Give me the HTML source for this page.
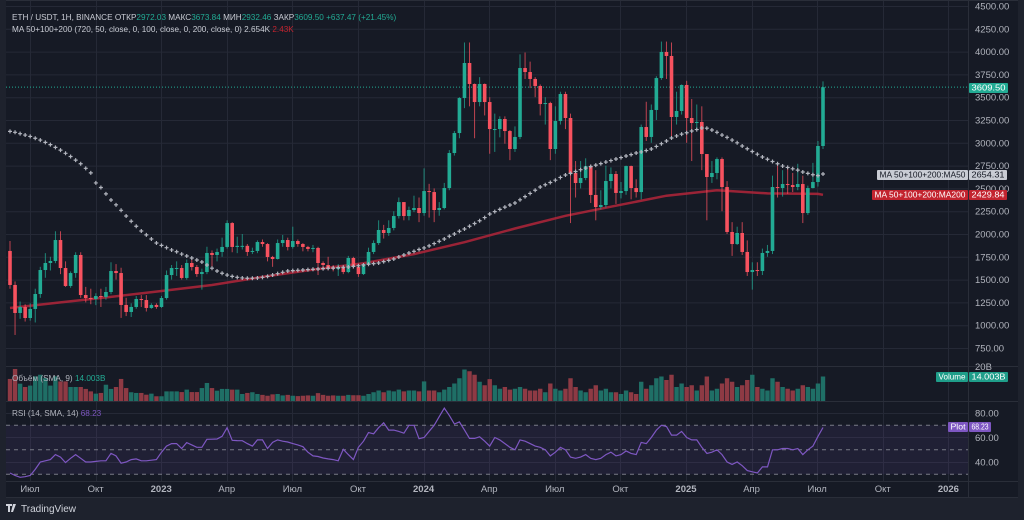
<!DOCTYPE html>
<html><head><meta charset="utf-8"><style>
html,body{margin:0;padding:0;background:#1e222d;width:1024px;height:520px;overflow:hidden;font-family:"Liberation Sans",sans-serif}
svg{display:block}
text{font-family:"Liberation Sans",sans-serif}
</style></head><body>
<svg id="c" width="1024" height="520"></svg>
<script>
const closes=[1441,1134,1200,1079,1178,1342,1605,1682,1704,1934,1627,1430,1572,1770,1331,1298,1287,1320,1310,1364,1594,1572,1222,1145,1200,1287,1276,1189,1222,1200,1298,1550,1627,1627,1518,1682,1638,1561,1583,1792,1770,1803,1858,2120,1858,1870,1870,1803,1814,1912,1890,1748,1726,1901,1934,1858,1923,1890,1858,1836,1847,1682,1660,1627,1616,1638,1583,1737,1638,1561,1671,1803,1901,2044,2011,2066,2197,2350,2197,2263,2285,2230,2471,2460,2263,2285,2504,2888,3107,3491,3875,3645,3447,3645,3447,3151,3151,3261,3129,2932,3064,3820,3776,3700,3623,3425,3436,2932,3239,3535,3272,2669,2559,2614,2745,2428,2296,2318,2581,2658,2450,2471,2745,2504,2460,3173,3064,3360,3710,3996,3952,3283,3349,3634,3272,3217,3228,2877,2625,2669,2822,2515,2022,1890,2011,1803,1583,1605,1594,1792,1814,2515,2504,2548,2537,2515,2548,2230,2504,2570,2965,3610];
const firstOpen=1814;
const highs=[1923,1480,1260,1230,1240,1400,1640,1790,1750,2030,2030,1700,1590,1800,1800,1420,1400,1350,1400,1420,1690,1670,1630,1300,1240,1320,1330,1330,1240,1240,1320,1600,1660,1700,1660,1720,1720,1660,1620,1860,1820,1840,1960,2150,2130,1970,2000,1890,1850,1930,1940,1900,1760,1940,1990,1960,2080,1940,1900,1870,1880,1860,1700,1750,1660,1670,1650,1760,1750,1660,1680,1850,1930,2150,2100,2150,2250,2400,2350,2300,2420,2400,2720,2550,2500,2350,2560,2920,3130,3500,4100,4100,3650,3720,3650,3500,3320,3290,3290,3140,3180,3970,3990,3890,3720,3640,3500,3450,3400,3560,3560,3320,2800,2800,2830,2760,2700,2480,2750,2730,2690,2570,2750,2750,2600,3200,3450,3420,3730,4110,4110,4100,3560,3640,3680,3480,3420,3400,2860,2800,2840,2840,2580,2130,2080,2130,1930,1690,1690,1840,1880,2640,2760,2700,2730,2670,2770,2640,2530,2780,3020,3674];
const lows=[1400,893,1070,1040,1050,1030,1300,1520,1600,1680,1560,1420,1410,1520,1300,1250,1230,1220,1200,1280,1340,1500,1080,1100,1090,1180,1200,1150,1180,1180,1190,1280,1500,1540,1500,1500,1600,1530,1390,1560,1640,1700,1750,1840,1800,1790,1830,1760,1780,1790,1860,1700,1640,1720,1860,1820,1840,1860,1810,1810,1800,1550,1600,1600,1590,1540,1560,1570,1620,1530,1550,1650,1780,1880,1950,1980,2040,2170,2150,2150,2240,2130,2200,2180,2130,2200,2270,2480,2860,3050,3380,3400,3050,3400,3300,2880,2900,3060,2990,2810,2900,3040,3700,3600,3500,3300,3200,2810,2880,3200,3150,2120,2400,2500,2590,2340,2150,2270,2290,2500,2330,2390,2430,2380,2400,2380,3020,3000,3250,3690,3700,3060,3200,3310,3000,2800,3150,2700,2150,2560,2600,2250,2000,1760,1880,1770,1540,1390,1540,1550,1750,1780,2400,2410,2440,2460,2480,2120,2210,2500,2520,2932];
const volumes=[12.6,18.3,9.9,8.0,8.8,14.1,15.0,13.1,8.8,14.1,11.2,11.2,8.0,8.0,8.0,6.9,5.5,4.2,4.6,9.3,6.9,8.0,12.6,7.4,5.0,4.6,4.6,3.6,4.2,2.7,2.7,5.5,5.5,5.5,5.1,6.5,5.1,5.1,7.4,10.3,7.4,5.9,6.9,6.9,6.5,6.5,4.0,4.6,5.0,4.0,3.5,3.0,3.8,4.0,3.2,3.5,3.0,2.8,3.0,3.2,3.0,4.5,3.5,3.0,3.2,3.0,3.0,3.5,3.3,3.3,3.0,4.0,5.0,6.0,5.0,6.0,5.5,6.5,5.5,6.0,6.0,5.5,11.2,6.0,6.0,5.0,6.5,8.0,10.0,13.0,18.0,17.0,15.0,11.0,9.0,12.5,9.0,7.0,8.0,6.5,7.0,8.0,7.0,6.0,6.0,7.0,5.0,10.0,7.0,6.0,7.0,13.0,8.0,6.0,5.0,7.0,9.0,6.0,7.0,5.0,5.0,4.0,6.0,5.0,4.0,11.0,7.0,9.0,13.0,14.0,12.0,15.0,8.0,10.0,8.0,9.0,6.0,9.0,14.0,6.0,7.0,10.0,13.0,11.0,8.0,9.0,12.0,15.0,8.0,7.0,6.0,13.0,11.0,8.0,7.0,6.0,7.0,9.0,8.0,7.0,10.0,14.0];
const rsi=[31,29,27.5,28,29,34,40,41,42,46,44,39.5,43,46,43,40,40,40.5,41,41,47,45,39,40,42,42.5,41,41,41.5,42,48,53,55,55,51,55.8,54,52,52,58.5,58.6,58.8,61,68,57.7,57.5,57.4,55,53,58,58,51,56,58,57,56.3,55,54,52.5,48,45,44.5,43.3,42.5,42,41,50.4,46,42,52,57,64,63,68,72,66,66,65,63.5,70,70,59,60,65,70,77,84,78,71,72.7,66,59.3,59.3,60.6,57,53,60,58,55,52,50,58,57,55,53,52,50,45,48,52,50,44,43,44,46,43,42,43,46,48,45,46,49,47,46,56,55,60,66,70,69,62,62,65,60,58,58,52,47,48,50,46,40,38,40,37,33,32,31,36,36,50,50,51,51,50,51,46,50,53,61,68.2];
const ma50=[3125,3115,3100,3085,3070,3050,3030,3005,2980,2950,2920,2885,2850,2810,2770,2720,2670,2560,2510,2440,2373,2320,2260,2197,2140,2085,2033,1990,1945,1901,1875,1850,1825,1805,1780,1759,1737,1715,1693,1660,1625,1594,1570,1550,1535,1525,1518,1515,1515,1518,1525,1535,1550,1565,1580,1594,1598,1602,1605,1609,1613,1616,1620,1624,1627,1631,1635,1638,1645,1652,1660,1668,1675,1682,1697,1711,1726,1748,1770,1792,1810,1830,1847,1870,1895,1920,1945,1975,2000,2030,2055,2085,2115,2145,2180,2219,2245,2270,2295,2318,2340,2375,2410,2445,2480,2515,2540,2565,2590,2620,2647,2665,2685,2705,2723,2740,2755,2772,2789,2805,2822,2838,2855,2870,2888,2900,2915,2932,2960,2990,3020,3053,3075,3095,3110,3129,3145,3162,3160,3140,3115,3085,3060,3030,3000,2965,2935,2905,2875,2844,2820,2795,2770,2745,2730,2715,2700,2680,2665,2650,2640,2658];
const ma200Step=10;
const ma200=[1189,1250,1310,1375,1441,1530,1610,1680,1780,1910,2060,2200,2310,2420,2480,2445,2440,2430];
const priceTicks=[4500,4250,4000,3750,3500,3250,3000,2750,2500,2250,2000,1750,1500,1250,1000,750];
const rsiTicks=[80,60,40];
const timeLabels=["Июл","Окт","2023","Апр","Июл","Окт","2024","Апр","Июл","Окт","2025","Апр","Июл","Окт","2026"];
const timeBold=[0,0,1,0,0,0,1,0,0,0,1,0,0,0,1];

const S=document.getElementById('c');
const NS='http://www.w3.org/2000/svg';
function mk(tag,at,parent){const e=document.createElementNS(NS,tag);for(const k in at)e.setAttribute(k,at[k]);(parent||S).appendChild(e);return e;}
const N=closes.length;
const X0=10,X1=823;
const xs=i=>X0+i*(X1-X0)/(N-1);
const py=p=>6+(4500-p)*0.0912;
const VB=401,vy=v=>VB-v*1.75;
const ry=r=>413+(80-r)*1.225;
const tx=k=>30+k*65.6;
const GREEN='#22ab94',RED='#f7525f';

const bg=mk('rect',{x:6,y:0,width:1012,height:497,fill:'#161a25'});


const grid=mk('g',{stroke:'#252936','stroke-width':1});


priceTicks.forEach(p=>{mk('line',{x1:6,x2:968,y1:py(p)+.5,y2:py(p)+.5},grid);});
timeLabels.forEach((t,k)=>{mk('line',{x1:Math.round(tx(k))+.5,x2:Math.round(tx(k))+.5,y1:0,y2:481},grid);});
[413,437,462].forEach(y=>mk('line',{x1:6,x2:968,y1:y+.5,y2:y+.5},grid));
const sep=mk('g',{stroke:'#2a2e39','stroke-width':1});


[366.5,401.5,481.5,497.5].forEach(y=>mk('line',{x1:6,x2:1018,y1:y,y2:y},sep));
mk('line',{x1:968.5,x2:968.5,y1:0,y2:497},sep);
mk('line',{x1:6,x2:1018,y1:0.5,y2:0.5},sep);

const band=mk('rect',{x:6,y:ry(70),width:962,height:ry(30)-ry(70),fill:'#7e57c2','fill-opacity':0.1});


[70,50,30].forEach(v=>{const l=mk('line',{x1:6,x2:968,y1:ry(v),y2:ry(v),stroke:'#787b86','stroke-dasharray':'4 4','stroke-width':1});

});

const lp=mk('line',{x1:6,x2:968,y1:py(closes[N-1]),y2:py(closes[N-1]),stroke:GREEN,'stroke-dasharray':'1 2','stroke-width':1});



let d='';ma200.forEach((v,k)=>{const i=Math.min(k*ma200Step,N-1);d+=(k?'L':'M')+xs(i).toFixed(1)+' '+py(v).toFixed(1);});
const m2=mk('path',{d:d,fill:'none',stroke:'#b2263a','stroke-width':2.5,'stroke-opacity':0.85});



const vg=mk('g',{});


const cg=mk('g',{});


for(let i=0;i<N;i++){
  const o=i?closes[i-1]:firstOpen,c=closes[i];
  const up=c>=o,col=up?GREEN:RED,x=xs(i);
  const w=mk('line',{x1:x,x2:x,y1:py(highs[i]),y2:py(lows[i]),stroke:col,'stroke-width':1,'stroke-opacity':0.75},cg);
  
  
  const t=py(Math.max(o,c)),b=py(Math.min(o,c));
  const r=mk('rect',{x:x-1.8,y:t,width:3.6,height:Math.max(1,b-t),fill:col},cg);
  
  
  const vb=mk('rect',{x:x-2.2,y:vy(volumes[i]),width:4.4,height:VB-vy(volumes[i]),fill:up?'#1f6f66':'#8e3a44'},vg);
  
  
}
const mg=mk('g',{stroke:'#b2b5be','stroke-width':1.2});


ma50.forEach((v,i)=>{const x=xs(i),y=py(v);mk('path',{d:`M${x-2} ${y}H${x+2}M${x} ${y-2}V${y+2}`},mg);});

let rd='';rsi.forEach((v,i)=>{rd+=(i?'L':'M')+xs(i).toFixed(1)+' '+ry(v).toFixed(1);});
const rl=mk('path',{d:rd,fill:'none',stroke:'#7e57c2','stroke-width':1.2});



const ax=mk('g',{fill:'#b2b5be','font-size':'9.5'});


priceTicks.forEach(p=>{const t=mk('text',{x:975,y:py(p)+3.5},ax);t.textContent=p.toFixed(2);});
const vt=mk('text',{x:975,y:370},ax);vt.textContent='20B';
rsiTicks.forEach(r=>{const t=mk('text',{x:975,y:ry(r)+3.5},ax);t.textContent=r.toFixed(2);});
const ta=mk('g',{fill:'#b2b5be','font-size':'9.5','text-anchor':'middle'});


timeLabels.forEach((s,k)=>{const t=mk('text',{x:tx(k),y:492,'font-weight':timeBold[k]?'bold':'normal'},ta);t.textContent=s;});

function tag(x,y,w,h,fill,txt,col,name){const g=mk('g',{});


mk('rect',{x:x,y:y,width:w,height:h,fill:fill,rx:1},g);const t=mk('text',{x:x+w/2,y:y+h-2.3,fill:col,'font-size':'8.5','text-anchor':'middle',textLength:w-5,lengthAdjust:'spacingAndGlyphs'},g);t.textContent=txt;}
tag(969,83,39,10,GREEN,'3609.50','#fff','last-price-label');
tag(877,170,91,10,'#c9ccd4','MA 50+100+200:MA50','#131722','ma50-name-label');
tag(969,170,38,10,'#c9ccd4','2654.31','#131722','ma50-value-label');
tag(872,190,96,10,'#c3242f','MA 50+100+200:MA200','#fff','ma200-name-label');
tag(969,190,38,10,'#c3242f','2429.84','#fff','ma200-value-label');
tag(936,372,32,10,'#1f9e8a','Volume','#fff','volume-name-label');
tag(969,372,39,10,'#1f9e8a','14.003B','#fff','volume-value-label');
tag(948,422,20,10,'#7e57c2','Plot','#fff','rsi-name-label');
tag(969,422,22,10,'#7e57c2','68.23','#fff','rsi-value-label');

function txt(x,y,parts,size,name){const t=mk('text',{x:x,y:y,'font-size':size});


parts.forEach(([s,c])=>{const sp=mk('tspan',{fill:c},t);sp.textContent=s;});}
txt(12,20,[['ETH / USDT, 1H, BINANCE  ОТКР','#c9ccd4'],['2972.03','#22ab94'],['  МАКС','#c9ccd4'],['3673.84','#22ab94'],['  МИН','#c9ccd4'],['2932.46','#22ab94'],['  ЗАКР','#c9ccd4'],['3609.50','#22ab94'],['  +637.47 (+21.45%)','#22ab94']],'8.2','symbol-legend');
txt(12,32,[['MA 50+100+200 (720, 50, close, 0, 100, close, 0, 200, close, 0)  2.654K  ','#c9ccd4'],['2.43K','#c3242f']],'8.2','ma-legend');
txt(12,381,[['Объём (SMA, 9)  ','#b2b5be'],['14.003B','#22ab94']],'8.2','volume-legend');
txt(12,416,[['RSI (14, SMA, 14)  ','#b2b5be'],['68.23','#7e57c2']],'8.2','rsi-legend');

const ft=mk('g',{});


mk('path',{d:'M6 504h6v2h-2v6h-2v-6h-2zM13 504h3l-3 8h-2z',fill:'#d1d4dc'},ft);
const fl=mk('text',{x:21,y:512,fill:'#d1d4dc','font-size':'10'},ft);fl.textContent='TradingView';
</script>
</body></html>
